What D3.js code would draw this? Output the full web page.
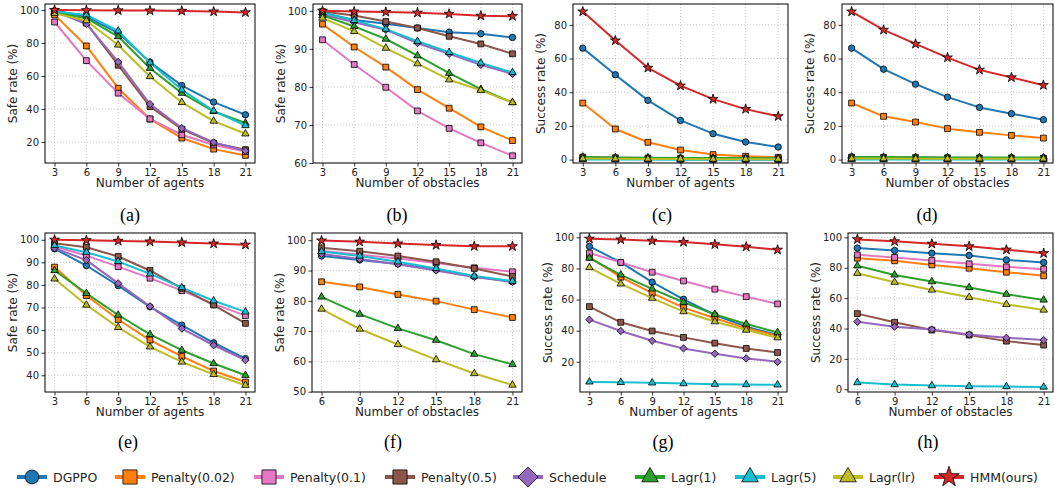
<!DOCTYPE html>
<html>
<head>
<meta charset="utf-8">
<script src="https://cdn.jsdelivr.net/npm/d3@7"></script>
<style>
  body { margin: 0; background: #fff; }
</style>
</head>
<body>
<script>
// Methods, in plotting order
const methods = ['DGPPO', 'Penalty(0.02)', 'Penalty(0.1)', 'Penalty(0.5)', 'Schedule',
                 'Lagr(1)', 'Lagr(5)', 'Lagr(lr)', 'HMM(ours)'];

// x categories
const agents = [3, 6, 9, 12, 15, 18, 21];
const obstaclesTop = [3, 6, 9, 12, 15, 18, 21];
const obstaclesBottom = [6, 9, 12, 15, 18, 21];

// (a) safe rate vs number of agents
const safeAgentsA = [
  [99.5, 96, 86, 68.4, 54.2, 44.2, 36.5],
  [97, 78.2, 52.6, 33.9, 22.4, 15.7, 11.9],
  [92.7, 69.3, 49.6, 34, 24.4, 18.2, 14.3],
  [99, 92, 66.5, 41.5, 27.8, 19.4, 15.4],
  [99.3, 91.5, 68.5, 43, 28.4, 19.8, 14.7],
  [98.5, 95, 83.9, 64.7, 49.6, 38.5, 31.5],
  [99, 97, 87.3, 68, 51.6, 38.9, 30],
  [98, 93.5, 78.8, 59.7, 44, 32.7, 25],
  [99.9, 99.8, 99.7, 99.6, 99.4, 99.0, 98.5]
];
// (b) safe rate vs number of obstacles
const safeObstaclesB = [
  [99.5, 97.6, 96.6, 95.5, 94.4, 94.0, 93.0],
  [96.5, 90.5, 85.2, 79.3, 74.4, 69.5, 65.9],
  [92.4, 85.9, 79.9, 73.7, 69.1, 65.3, 61.9],
  [99.8, 98.8, 97.2, 95.5, 93.3, 91.3, 88.7],
  [99, 97, 95, 91.5, 88.7, 85.8, 83.4],
  [98.8, 95.9, 92.6, 88.2, 83.6, 79.4, 75.9],
  [99.5, 97.5, 95.2, 92, 89.1, 86.3, 83.8],
  [98.1, 94.6, 90.2, 86.1, 81.9, 79.1, 75.9],
  [100, 99.8, 99.7, 99.5, 99.2, 98.7, 98.6]
];
// (c) success rate vs number of agents
const successAgentsC = [
  [66.2, 50.4, 35.2, 23.3, 15.4, 10.5, 7.5],
  [33.6, 18.2, 10.3, 5.7, 3.0, 2.0, 1.4],
  [0.8, 0.4, 0.3, 0.2, 0.1, 0.1, 0.1],
  [1.5, 1.1, 0.9, 0.7, 0.6, 0.6, 0.5],
  [1.2, 0.8, 0.6, 0.4, 0.3, 0.3, 0.2],
  [1.6, 1.3, 1.1, 1.0, 0.9, 0.9, 0.8],
  [0.1, 0.1, 0.1, 0.0, 0.0, 0.0, 0.0],
  [0.6, 0.5, 0.4, 0.4, 0.3, 0.3, 0.3],
  [87.9, 70.7, 54.5, 43.9, 35.9, 30.0, 25.7]
];
// (d) success rate vs number of obstacles
const successObstaclesD = [
  [66.2, 53.7, 44.8, 37.1, 31.0, 27.3, 23.7],
  [33.6, 25.7, 22.3, 18.4, 16.2, 14.4, 12.8],
  [0.8, 0.6, 0.5, 0.5, 0.4, 0.4, 0.4],
  [1.5, 1.3, 1.2, 1.1, 1.0, 1.0, 0.9],
  [1.2, 1.0, 0.9, 0.8, 0.8, 0.7, 0.7],
  [1.6, 1.5, 1.4, 1.3, 1.3, 1.2, 1.2],
  [0.1, 0.1, 0.1, 0.1, 0.1, 0.1, 0.1],
  [0.6, 0.6, 0.5, 0.5, 0.5, 0.5, 0.5],
  [87.9, 77.0, 68.7, 60.6, 53.3, 48.8, 44.2]
];
// (e) safe rate vs number of agents
const safeAgentsE = [
  [96, 88.6, 79.7, 70.3, 62.2, 54.4, 47.4],
  [87.9, 75.3, 64.7, 55.6, 48.4, 41.9, 37],
  [97, 93, 88.1, 83, 77.5, 71.6, 66.4],
  [98.5, 96.7, 92.6, 86.4, 78.5, 71.1, 63],
  [96.3, 91, 80.7, 70.5, 60.7, 53.3, 46.7],
  [86.4, 76.3, 66.7, 58.1, 51.1, 45.2, 40],
  [97.5, 94.5, 90.4, 84.9, 78.8, 73, 68.1],
  [82.7, 71.1, 61.2, 52.6, 45.9, 40.4, 35.6],
  [100, 99.8, 99.5, 99.2, 98.8, 98.3, 97.8]
];
// (f) safe rate vs number of obstacles
const safeObstaclesF = [
  [94.8, 93.5, 92.2, 90.3, 88, 86.3],
  [86.3, 84.6, 82.1, 79.9, 77.1, 74.5],
  [96.5, 95.2, 94, 92.5, 90.9, 89.6],
  [97.5, 96.4, 94.8, 92.9, 90.7, 88],
  [95.5, 93.8, 92.1, 90, 87.9, 86.3],
  [81.3, 75.6, 70.9, 67, 62.4, 59],
  [96.3, 94.8, 92.9, 90.7, 88.2, 86.5],
  [77.3, 70.7, 65.6, 60.6, 56, 52.2],
  [99.9, 99.5, 98.9, 98.4, 98, 98]
];
// (g) success rate vs number of agents
const successAgentsG = [
  [94.2, 83.9, 71.2, 60.2, 50.1, 42.6, 37.2],
  [87.3, 74.4, 64.1, 54.8, 48, 41.5, 36.8],
  [89.9, 83.9, 77.6, 72, 66.7, 61.9, 57.2],
  [55.5, 45.4, 39.8, 35.7, 32, 28.6, 26],
  [47.1, 39.8, 33.5, 28.6, 25.2, 22.2, 20],
  [86.7, 75.9, 66.9, 58.3, 50.5, 44.3, 38.9],
  [7.1, 6.8, 6.5, 6.0, 5.6, 5.4, 5.2],
  [80.6, 70.1, 60.9, 52.3, 45.8, 40.4, 35.5],
  [99.1, 98.6, 97.8, 97, 95.5, 94, 92]
];
// (h) success rate vs number of obstacles
const successObstaclesH = [
  [93, 91.4, 89.6, 88.1, 85.2, 83.5],
  [86.3, 84.6, 81.9, 79.7, 77.1, 74.7],
  [88.5, 86.8, 84.8, 82.6, 80.6, 79.1],
  [49.8, 44.1, 39, 35.7, 31.7, 29.1],
  [44.5, 41.2, 39.4, 36.1, 33.9, 32.4],
  [81.3, 75.3, 70.9, 67, 62.6, 58.8],
  [4.4, 3.1, 2.4, 2.0, 1.8, 1.5],
  [76.4, 70.5, 65.4, 60.6, 55.9, 52.2],
  [98.7, 97.4, 95.8, 94.1, 91.9, 89.6]
];

// tick labels
const yTicksA = [20, 40, 60, 80, 100];
const yTicksB = [60, 70, 80, 90, 100];
const yTicksC = [0, 20, 40, 60, 80];
const yTicksE = [40, 50, 60, 70, 80, 90, 100];
const yTicksF = [50, 60, 70, 80, 90, 100];
const yTicksG = [20, 40, 60, 80, 100];
const yTicksH = [0, 20, 40, 60, 80, 100];

const panelLabels = ['(a)', '(b)', '(c)', '(d)', '(e)', '(f)', '(g)', '(h)'];

// styles
const colors = ['#1f77b4', '#ff7f0e', '#e377c2', '#8c564b', '#9467bd',
                '#2ca02c', '#17becf', '#bcbd22', '#d62728'];
const shapes = [d3.symbolCircle, d3.symbolSquare, d3.symbolSquare, d3.symbolSquare,
                d3.symbolDiamond2, d3.symbolTriangle, d3.symbolTriangle, d3.symbolTriangle, d3.symbolStar];
const markSize = [32, 34, 34, 34, 34, 24, 24, 24, 30];
const legendSize = [150, 200, 200, 200, 260, 120, 120, 120, 130];

const sans = '"DejaVu Sans", sans-serif';
const width = 1055, height = 489;
const svg = d3.select('body').append('svg')
  .attr('width', width).attr('height', height);

// plot boxes: [left, right, top, bottom]
const panels = [
  { box: [45, 255, 4, 163], x: agents, ys: safeAgentsA, yDom: [7.3, 103.6], yTicks: yTicksA, yLab: 'Safe rate (%)', xLab: 'Number of agents', cx: 130, ly: 215 },
  { box: [313, 522, 4, 163], x: obstaclesTop, ys: safeObstaclesB, yDom: [60, 101.8], yTicks: yTicksB, yLab: 'Safe rate (%)', xLab: 'Number of obstacles', cx: 397, ly: 215 },
  { box: [573, 788, 4, 163], x: agents, ys: successAgentsC, yDom: [-2, 92.4], yTicks: yTicksC, yLab: 'Success rate (%)', xLab: 'Number of agents', cx: 662, ly: 215 },
  { box: [842, 1053, 4, 163], x: obstaclesTop, ys: successObstaclesD, yDom: [-2, 92.4], yTicks: yTicksC, yLab: 'Success rate (%)', xLab: 'Number of obstacles', cx: 927, ly: 215 },
  { box: [45, 255, 233, 392], x: agents, ys: safeAgentsE, yDom: [32.6, 103], yTicks: yTicksE, yLab: 'Safe rate (%)', xLab: 'Number of agents', cx: 128, ly: 442 },
  { box: [312, 522, 233, 392], x: obstaclesBottom, ys: safeObstaclesF, yDom: [49.9, 102.4], yTicks: yTicksF, yLab: 'Safe rate (%)', xLab: 'Number of obstacles', cx: 393, ly: 442 },
  { box: [580, 787, 233, 392], x: agents, ys: successAgentsG, yDom: [0.6, 102.8], yTicks: yTicksG, yLab: 'Success rate (%)', xLab: 'Number of agents', cx: 663, ly: 442 },
  { box: [848, 1053, 233, 392], x: obstaclesBottom, ys: successObstaclesH, yDom: [-1.8, 102.9], yTicks: yTicksH, yLab: 'Success rate (%)', xLab: 'Number of obstacles', cx: 928, ly: 442 }
];

panels.forEach(function(p, pi) {
  const [l, r, t, b] = p.box;
  const xmin = d3.min(p.x), xmax = d3.max(p.x), pad = (xmax - xmin) * 0.05;
  const x = d3.scaleLinear().domain([xmin - pad, xmax + pad]).range([l, r]);
  const y = d3.scaleLinear().domain(p.yDom).range([b, t]);
  const g = svg.append('g');

  // grid
  g.append('g').selectAll('line').data(p.x).enter().append('line')
    .attr('x1', d => x(d)).attr('x2', d => x(d)).attr('y1', t).attr('y2', b)
    .attr('stroke', '#bdbdbd').attr('stroke-width', 0.8).attr('stroke-dasharray', '1.2,1.8');
  g.append('g').selectAll('line').data(p.yTicks).enter().append('line')
    .attr('y1', d => y(d)).attr('y2', d => y(d)).attr('x1', l).attr('x2', r)
    .attr('stroke', '#bdbdbd').attr('stroke-width', 0.8).attr('stroke-dasharray', '1.2,1.8');

  // axes
  const xAxis = g.append('g').attr('transform', `translate(0,${b})`)
    .call(d3.axisBottom(x).tickValues(p.x).tickSize(3.5).tickPadding(2.5));
  const yAxis = g.append('g').attr('transform', `translate(${l},0)`)
    .call(d3.axisLeft(y).tickValues(p.yTicks).tickSize(3.5).tickPadding(2.5));
  [xAxis, yAxis].forEach(a => {
    a.attr('font-family', null).attr('font-size', null);
    a.select('.domain').remove();
    a.selectAll('text').style('font-family', sans).style('font-size', '10px').attr('fill', '#222');
    a.selectAll('line').attr('stroke', '#000').attr('stroke-width', 0.8);
  });

  // series
  p.ys.forEach(function(vals, si) {
    const pts = vals.map((v, i) => [p.x[i], v]);
    g.append('path').datum(pts)
      .attr('d', d3.line().x(d => x(d[0])).y(d => y(d[1])))
      .attr('fill', 'none').attr('stroke', colors[si]).attr('stroke-width', 2)
      .attr('stroke-linejoin', 'round');
    g.append('g').selectAll('path').data(pts).enter().append('path')
      .attr('transform', d => `translate(${x(d[0])},${y(d[1])})`)
      .attr('d', d3.symbol().type(shapes[si]).size(markSize[si]))
      .attr('fill', colors[si]).attr('stroke', '#000').attr('stroke-width', 0.8);
  });

  // frame
  g.append('rect').attr('x', l).attr('y', t).attr('width', r - l).attr('height', b - t)
    .attr('fill', 'none').attr('stroke', '#000').attr('stroke-width', 1);

  // labels
  g.append('text').attr('x', (l + r) / 2).attr('y', b + 24)
    .attr('text-anchor', 'middle').style('font-family', sans).style('font-size', '12px')
    .attr('fill', '#222').text(p.xLab);
  g.append('text').attr('transform', `translate(${l - 28},${(t + b) / 2}) rotate(-90)`)
    .attr('text-anchor', 'middle').style('font-family', sans).style('font-size', '12px')
    .attr('fill', '#222').text(p.yLab);
  svg.append('text').attr('x', p.cx).attr('y', p.ly + 6)
    .attr('text-anchor', 'middle')
    .style('font-family', '"Liberation Serif", "Times New Roman", serif').style('font-size', '18px')
    .attr('fill', '#000').text(panelLabels[pi]);
});

// legend
const legendX = [17, 115, 254, 385, 513, 635, 735, 833, 934];
const legY = 477;
const leg = svg.append('g');
methods.forEach(function(m, i) {
  const lx = legendX[i];
  leg.append('line').attr('x1', lx).attr('x2', lx + 30).attr('y1', legY).attr('y2', legY)
    .attr('stroke', colors[i]).attr('stroke-width', 4);
  leg.append('path').attr('transform', `translate(${lx + 15},${legY})`)
    .attr('d', d3.symbol().type(shapes[i]).size(legendSize[i]))
    .attr('fill', colors[i]).attr('stroke', '#000').attr('stroke-width', 0.8);
  leg.append('text').attr('x', lx + 36).attr('y', legY + 4.5)
    .style('font-family', sans).style('font-size', '12.5px').attr('fill', '#222').text(m);
});
</script>
</body>
</html>
